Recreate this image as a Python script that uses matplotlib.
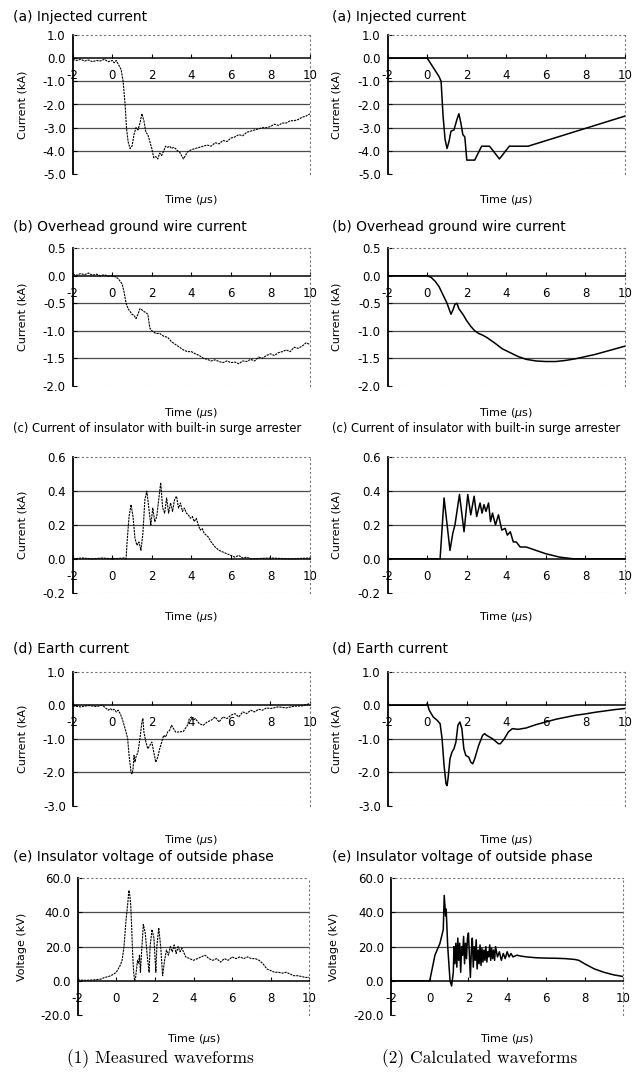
import matplotlib.pyplot as plt
from matplotlib.ticker import FixedLocator, FuncFormatter

plt.rcParams['axes.unicode_minus'] = False
plt.rcParams['font.family'] = ['DejaVu Sans']
plt.rcParams['mathtext.fontset'] = 'dejavusans'

W, H = 639, 1073

# (a) injected current (kA)
a_meas_t = [-2, -1.8, -1.6, -1.4, -1.2, -1.0, -0.8, -0.6, -0.4, -0.2, 0, 0.1, 0.2, 0.3, 0.45, 0.55,
            0.65, 0.72, 0.8, 0.9, 1.0, 1.1, 1.2, 1.3, 1.4, 1.5, 1.6, 1.7, 1.8, 1.9, 2.0, 2.1, 2.2,
            2.3, 2.4, 2.5, 2.6, 2.7, 2.8, 2.9, 3.0, 3.1, 3.2, 3.3, 3.4, 3.5, 3.6, 3.7, 3.8, 3.9,
            4.0, 4.2, 4.4, 4.6, 4.8, 5.0, 5.2, 5.4, 5.6, 5.8, 6.0, 6.2, 6.4, 6.6, 6.8, 7.0, 7.2,
            7.4, 7.6, 7.8, 8.0, 8.2, 8.4, 8.6, 8.8, 9.0, 9.2, 9.4, 9.6, 9.8, 10]
a_meas_i = [-0.05, -0.1, -0.05, -0.12, -0.08, -0.15, -0.1, -0.12, -0.05, -0.15, -0.1, -0.2, -0.1,
            -0.25, -0.5, -1.0, -2.0, -3.0, -3.6, -3.9, -3.8, -3.3, -3.0, -3.1, -2.8, -2.4, -2.7,
            -3.2, -3.3, -3.6, -3.9, -4.3, -4.25, -4.35, -4.1, -4.2, -4.0, -3.8, -3.85, -3.8, -3.9,
            -3.85, -3.9, -4.0, -4.05, -4.2, -4.35, -4.2, -4.05, -4.0, -3.95, -3.9, -3.85, -3.8,
            -3.75, -3.8, -3.65, -3.7, -3.55, -3.6, -3.45, -3.4, -3.3, -3.35, -3.2, -3.15, -3.1,
            -3.05, -3.0, -3.0, -2.95, -2.85, -2.9, -2.8, -2.8, -2.7, -2.7, -2.65, -2.55, -2.5, -2.4]
a_calc_t = [-2, 0, 0.6, 0.7, 0.8, 0.9, 1.0, 1.1, 1.2, 1.35, 1.5, 1.6, 1.7, 1.8, 1.9, 2.0, 2.4,
            2.75, 3.15, 3.65, 4.15, 5.1, 10]
a_calc_i = [0, 0, -0.8, -1.0, -2.5, -3.5, -3.9, -3.6, -3.15, -3.1, -2.65, -2.4, -2.8, -3.3, -3.4,
            -4.4, -4.4, -3.8, -3.8, -4.35, -3.8, -3.8, -2.5]

# (b) overhead ground wire current (kA)
b_meas_t = [-2, -1.8, -1.6, -1.4, -1.2, -1.0, -0.8, -0.6, -0.4, -0.2, 0, 0.15, 0.3, 0.5, 0.6, 0.7,
            0.8, 0.9, 1.0, 1.1, 1.2, 1.3, 1.4, 1.5, 1.6, 1.7, 1.8, 1.9, 2.0, 2.2, 2.4, 2.6, 2.8,
            3.0, 3.2, 3.4, 3.6, 3.8, 4.0, 4.2, 4.4, 4.6, 4.8, 5.0, 5.2, 5.4, 5.6, 5.8, 6.0, 6.2,
            6.4, 6.6, 6.8, 7.0, 7.2, 7.4, 7.6, 7.8, 8.0, 8.2, 8.4, 8.6, 8.8, 9.0, 9.2, 9.4, 9.6,
            9.8, 10]
b_meas_i = [0.03, 0.01, 0.04, 0.02, 0.05, 0.01, 0.03, 0.0, 0.02, -0.01, 0.0, -0.02, -0.05, -0.15,
            -0.3, -0.5, -0.6, -0.65, -0.7, -0.72, -0.78, -0.7, -0.6, -0.62, -0.65, -0.67, -0.7,
            -0.95, -1.0, -1.05, -1.05, -1.1, -1.12, -1.2, -1.25, -1.3, -1.35, -1.38, -1.38, -1.42,
            -1.45, -1.5, -1.52, -1.55, -1.53, -1.56, -1.58, -1.55, -1.58, -1.57, -1.6, -1.55,
            -1.56, -1.52, -1.55, -1.48, -1.5, -1.45, -1.42, -1.45, -1.4, -1.38, -1.35, -1.38, -1.3,
            -1.32, -1.28, -1.22, -1.25]
b_calc_t = [-2, 0, 0.2, 0.4, 0.6, 0.8, 1.0, 1.1, 1.2, 1.3, 1.4, 1.5, 1.6, 1.8, 2.0, 2.2, 2.4, 2.6,
            2.8, 3.0, 3.4, 3.8, 4.2, 4.6, 5.0, 5.5, 6.0, 6.5, 7.0, 7.5, 8.0, 8.5, 9.0, 9.5, 10]
b_calc_i = [0, 0, -0.03, -0.1, -0.2, -0.35, -0.5, -0.6, -0.7, -0.62, -0.52, -0.5, -0.6, -0.7,
            -0.82, -0.92, -1.0, -1.05, -1.08, -1.12, -1.22, -1.33, -1.4, -1.47, -1.52, -1.55,
            -1.56, -1.56, -1.54, -1.51, -1.47, -1.43, -1.38, -1.33, -1.28]

# (c) current of insulator with built-in surge arrester (kA)
c_meas_t = [-2, -1.5, -1.0, -0.5, 0, 0.6, 0.7, 0.75, 0.85, 0.95, 1.05, 1.15, 1.25, 1.35, 1.45, 1.55,
            1.65, 1.75, 1.85, 1.95, 2.05, 2.15, 2.25, 2.35, 2.45, 2.55, 2.65, 2.75, 2.85, 2.95,
            3.05, 3.15, 3.25, 3.35, 3.45, 3.55, 3.65, 3.75, 3.85, 3.95, 4.05, 4.15, 4.25, 4.35,
            4.45, 4.55, 4.65, 4.75, 4.85, 5.0, 5.2, 5.4, 5.6, 5.8, 6.0, 6.2, 6.4, 6.6, 6.8, 7.0,
            8.0, 9.0, 10]
c_meas_i = [0.0, 0.005, 0.0, 0.005, 0.0, 0.005, 0.0, 0.1, 0.25, 0.32, 0.25, 0.12, 0.08, 0.1, 0.05,
            0.15, 0.35, 0.4, 0.3, 0.2, 0.3, 0.22, 0.25, 0.35, 0.45, 0.3, 0.27, 0.36, 0.27, 0.33,
            0.28, 0.35, 0.37, 0.3, 0.33, 0.28, 0.3, 0.27, 0.26, 0.24, 0.25, 0.22, 0.24, 0.2, 0.17,
            0.18, 0.15, 0.14, 0.13, 0.1, 0.07, 0.05, 0.04, 0.03, 0.02, 0.01, 0.02, 0.005, 0.01,
            0.0, 0.005, 0.0, 0.005]
c_calc_t = [-2, 0.65, 0.85, 1.15, 1.29, 1.4, 1.63, 1.86, 2.05, 2.2, 2.37, 2.5, 2.67, 2.77, 2.87,
            2.97, 3.1, 3.2, 3.3, 3.45, 3.6, 3.77, 3.94, 4.05, 4.2, 4.35, 4.5, 4.7, 5.0, 5.5, 6.0,
            6.7, 7.4, 10]
c_calc_i = [0, 0, 0.36, 0.05, 0.15, 0.2, 0.38, 0.16, 0.38, 0.26, 0.37, 0.25, 0.33, 0.27, 0.32,
            0.28, 0.33, 0.22, 0.27, 0.2, 0.26, 0.17, 0.18, 0.14, 0.16, 0.1, 0.1, 0.07, 0.07, 0.05,
            0.03, 0.01, 0.0, 0.0]

# (d) earth current (kA)
d_meas_t = [-2, -1.6, -1.2, -0.8, -0.5, -0.4, -0.3, -0.2, -0.1, 0, 0.1, 0.2, 0.3, 0.4, 0.5, 0.6,
            0.7, 0.78, 0.85, 0.95, 1.0, 1.05, 1.1, 1.15, 1.2, 1.3, 1.4, 1.5, 1.55, 1.6, 1.7, 1.8,
            1.9, 2.0, 2.1, 2.2, 2.3, 2.4, 2.5, 2.6, 2.7, 2.8, 2.9, 3.0, 3.1, 3.2, 3.4, 3.6, 3.8,
            3.9, 4.0, 4.1, 4.2, 4.4, 4.6, 4.8, 5.0, 5.2, 5.4, 5.6, 5.8, 6.0, 6.2, 6.4, 6.6, 6.8,
            7.0, 7.2, 7.4, 7.6, 7.8, 8.0, 8.4, 8.8, 9.2, 9.6, 10]
d_meas_i = [-0.02, -0.05, -0.01, -0.04, 0.0, -0.05, -0.1, -0.15, -0.1, -0.15, -0.12, -0.2, -0.15,
            -0.25, -0.4, -0.6, -0.8, -1.0, -1.5, -2.0, -2.05, -1.9, -1.5, -1.7, -1.55, -1.4, -1.0,
            -0.5, -0.4, -0.8, -1.1, -1.3, -1.2, -1.1, -1.4, -1.7, -1.55, -1.3, -1.1, -0.9, -0.95,
            -0.8, -0.75, -0.6, -0.7, -0.8, -0.8, -0.78, -0.6, -0.4, -0.35, -0.45, -0.4, -0.55,
            -0.6, -0.5, -0.45, -0.35, -0.5, -0.35, -0.4, -0.3, -0.25, -0.35, -0.2, -0.25, -0.15,
            -0.2, -0.12, -0.15, -0.08, -0.1, -0.05, -0.08, -0.03, -0.02, 0.05]
d_calc_t = [-2, -0.05, 0.0, 0.1, 0.3, 0.5, 0.65, 0.75, 0.85, 0.95, 1.0, 1.05, 1.15, 1.25, 1.35,
            1.45, 1.55, 1.65, 1.75, 1.85, 1.95, 2.1, 2.2, 2.3, 2.4, 2.6, 2.8, 2.9, 3.0, 3.3, 3.6,
            3.7, 3.9, 4.1, 4.3, 4.6, 5.0, 5.5, 6.0, 6.5, 7.0, 7.5, 8.0, 8.5, 9.0, 9.5, 10]
d_calc_i = [0, 0, 0.05, -0.15, -0.35, -0.45, -0.55, -1.0, -1.8, -2.35, -2.4, -2.2, -1.6, -1.4,
            -1.3, -1.1, -0.6, -0.5, -0.7, -1.3, -1.5, -1.55, -1.7, -1.75, -1.6, -1.2, -0.9, -0.85,
            -0.9, -1.0, -1.15, -1.15, -1.0, -0.8, -0.7, -0.72, -0.68, -0.58, -0.5, -0.42, -0.36,
            -0.3, -0.26, -0.21, -0.17, -0.13, -0.1]

# (e) insulator voltage of outside phase (kV)
e_meas_t = [-2, -1.6, -1.2, -0.8, -0.6, -0.4, -0.2, 0, 0.1, 0.2, 0.3, 0.4, 0.5, 0.6, 0.65, 0.7,
            0.75, 0.8, 0.85, 0.9, 0.95, 1.0, 1.1, 1.15, 1.2, 1.25, 1.3, 1.4, 1.5, 1.6, 1.7, 1.75,
            1.85, 1.95, 2.05, 2.1, 2.2, 2.3, 2.4, 2.5, 2.6, 2.7, 2.8, 2.9, 3.0, 3.1, 3.2, 3.3, 3.4,
            3.6, 3.8, 4.0, 4.2, 4.4, 4.6, 4.8, 5.0, 5.2, 5.4, 5.6, 5.8, 6.0, 6.2, 6.4, 6.6, 6.8,
            7.0, 7.2, 7.4, 7.6, 7.8, 8.0, 8.2, 8.4, 8.6, 8.8, 9.0, 9.2, 9.4, 9.6, 9.8, 10]
e_meas_v = [0.5, 0.3, 0.5, 1.0, 2.0, 2.5, 3.5, 5, 7, 9, 12, 20, 35, 46, 53, 50, 44, 30, 15, 5, 0, 2,
            12, 10, 15, 5, 15, 33, 28, 15, 5, 20, 30, 25, 5, 20, 31, 20, 3, 12, 18, 15, 20, 17, 21,
            16, 20, 17, 19, 14, 13, 12, 13, 14, 15, 13, 12, 13, 11, 13, 12, 14, 13, 14, 13, 14,
            13, 13, 12, 10, 7, 6, 5, 5, 4.5, 5, 4, 3, 3, 2.5, 2, 2]
e_calc_t = [-2, 0.0, 0.27, 0.53, 0.7, 0.75, 0.82, 0.85, 0.93, 1.05, 1.13, 1.22, 1.25, 1.3, 1.35,
            1.4, 1.45, 1.5, 1.55, 1.6, 1.65, 1.7, 1.75, 1.8, 1.85, 1.9, 1.95, 2.0, 2.05, 2.1, 2.15,
            2.2, 2.25, 2.3, 2.35, 2.4, 2.45, 2.5, 2.55, 2.6, 2.65, 2.7, 2.75, 2.8, 2.85, 2.9, 2.95,
            3.0, 3.05, 3.1, 3.15, 3.2, 3.25, 3.3, 3.35, 3.4, 3.5, 3.6, 3.7, 3.8, 3.9, 4.0, 4.1,
            4.2, 4.3, 4.5, 4.7, 5.0, 5.5, 6.0, 6.5, 7.0, 7.5, 7.7, 8.0, 8.5, 9.0, 9.5, 10]
e_calc_v = [0, 0, 15, 22, 30, 50, 38, 42, 20, 0, -3, 5, 20, 10, 22, 8, 25, 12, 22, 5, 20, 15, 26,
            10, 22, 13, 25, 28, 15, 2, 18, 25, 8, 20, 12, 24, 7, 18, 10, 21, 9, 19, 11, 18, 12,
            20, 11, 17, 14, 21, 12, 19, 13, 18, 12, 20, 14, 17, 12, 16, 13, 17, 14, 16, 14, 15,
            14.5, 14, 13.5, 13.3, 13.2, 13, 12.5, 12, 10, 7, 5, 3.5, 2.5]

titles = ['(a) Injected current', '(b) Overhead ground wire current',
          '(c) Current of insulator with built-in surge arrester', '(d) Earth current',
          '(e) Insulator voltage of outside phase']
ylabels = ['Current (kA)', 'Current (kA)', 'Current (kA)', 'Current (kA)', 'Voltage (kV)']
yticks = [[-5, -4, -3, -2, -1, 0, 1], [-2.0, -1.5, -1.0, -0.5, 0.0, 0.5],
          [-0.2, 0.0, 0.2, 0.4, 0.6], [-3, -2, -1, 0, 1], [-20, 0, 20, 40, 60]]
xticks = [-2, 0, 2, 4, 6, 8, 10]
measured = [(a_meas_t, a_meas_i), (b_meas_t, b_meas_i), (c_meas_t, c_meas_i),
            (d_meas_t, d_meas_i), (e_meas_t, e_meas_v)]
calculated = [(a_calc_t, a_calc_i), (b_calc_t, b_calc_i), (c_calc_t, c_calc_i),
              (d_calc_t, d_calc_i), (e_calc_t, e_calc_v)]

# pixel layout of the scanned page
rows = [(35, 174), (248.3, 385.7), (457.3, 592.7), (671.7, 805.7), (878.3, 1015)]
title_y = [16.7, 226.7, 428.3, 648.3, 856.7]
xlab_y = [192.7, 405.7, 610, 833, 1031.7]
cols = [(72.7, 310), (387.7, 625)]
cols_e = [(77.7, 309.3), (391, 623.3)]
title_x = [13, 332]

fig = plt.figure(figsize=(W / 100, H / 100), dpi=100)


def draw(ax, t, y, ticks, style):
    ax.set_xlim(-2, 10)
    ax.set_ylim(ticks[0], ticks[-1])
    for v in ticks[1:-1]:
        if v != 0:
            ax.axhline(v, color='#4a4a4a', lw=0.9, zorder=1)
    ax.axhline(ticks[0], color='#777777', lw=0.8, ls=(0, (1, 3)), zorder=1)
    ax.plot(t, y, color='black', zorder=3, **style)
    ax.spines['bottom'].set_position(('data', 0))
    ax.spines['bottom'].set_linewidth(1.1)
    ax.spines['left'].set_linewidth(1.3)
    for s in ('top', 'right'):
        ax.spines[s].set_linestyle((0, (1, 3)))
        ax.spines[s].set_color('#777777')
        ax.spines[s].set_linewidth(0.8)
    ax.xaxis.set_major_locator(FixedLocator(xticks))
    ax.yaxis.set_major_locator(FixedLocator(ticks))
    ax.xaxis.set_major_formatter(FuncFormatter(lambda v, p: '%d' % v))
    ax.yaxis.set_major_formatter(FuncFormatter(lambda v, p: '%.1f' % v))
    ax.tick_params(axis='x', direction='in', length=3, pad=8, labelsize=8.5)
    ax.tick_params(axis='y', direction='in', length=3, pad=5, labelsize=8.5)
    ax.set_ylabel(ax.get_label(), fontsize=8)


for r in range(5):
    top, bot = rows[r]
    for c in range(2):
        x0, x1 = (cols_e if r == 4 else cols)[c]
        ax = fig.add_axes([x0 / W, 1 - bot / H, (x1 - x0) / W, (bot - top) / H],
                          label=ylabels[r])
        if c == 0:
            t, y = measured[r]
            draw(ax, t, y, yticks[r], dict(lw=0.8, ls=(0, (2, 0.8))))
        else:
            t, y = calculated[r]
            draw(ax, t, y, yticks[r], dict(lw=1.1))
        ylab_x = 28 if c == 0 else 341.7
        if r == 4:
            ylab_x = 26.7 if c == 0 else 339
        ax.yaxis.set_label_coords((ylab_x - x0) / (x1 - x0), 0.5)
        ax.set_xlabel(r'Time ($\mu$s)', fontsize=8)
        ax.xaxis.set_label_coords(0.5, -(xlab_y[r] - bot) / (bot - top))
        fig.text(title_x[c] / W, 1 - title_y[r] / H, titles[r],
                 fontsize=8.3 if r == 2 else 10, ha='left', va='center')

fig.text(160 / W, 1 - 1058.3 / H, '(1) Measured waveforms', fontname='cmr10',
         fontsize=12.5, ha='center', va='center')
fig.text(480 / W, 1 - 1058.3 / H, '(2) Calculated waveforms', fontname='cmr10',
         fontsize=12.5, ha='center', va='center')

fig.savefig('out.png', dpi=100)
